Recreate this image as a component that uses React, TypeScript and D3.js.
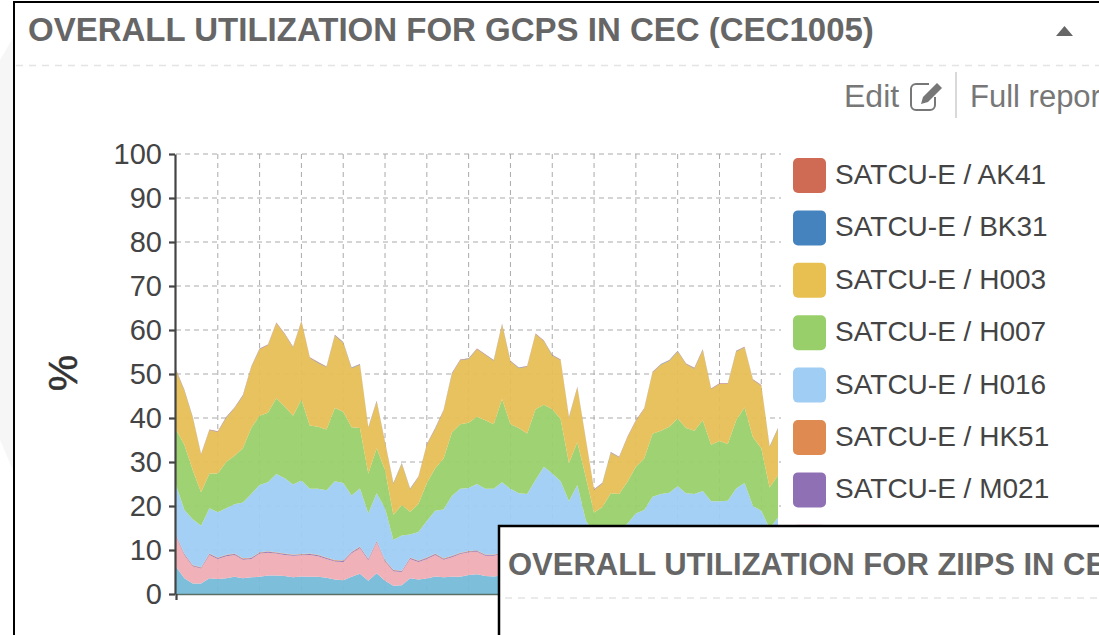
import React, { useEffect, useRef } from 'react';
import * as d3 from 'd3';

// cumulative tops (values behind the lower panel are rough guesses)
const topYellow = [51, 46.4, 40.3, 31.8, 37.4, 37, 40.2, 42.4, 45.2, 51.7, 55.8, 56.7, 61.7, 59.2, 56.2, 62.1, 53.8, 52.7, 51.7, 58.9, 57.3, 51.5, 52.3, 37.9, 43.9, 34.6, 25.2, 29.8, 24, 26.7, 34.1, 37.7, 41.8, 50.2, 53.3, 53.6, 55.8, 54.5, 53.2, 61.4, 53, 51.5, 51.8, 59.2, 57.6, 54.4, 53.3, 40.2, 47.1, 35.4, 23.8, 25.3, 32.3, 31.2, 35.8, 39.5, 42.2, 50.5, 52.3, 53.2, 55.3, 52.4, 51.4, 55.6, 46.7, 47.9, 47.9, 55.3, 56.2, 48.8, 47.5, 33.6, 37.7];
const topGreen = [37.4, 33.9, 28.2, 23.1, 27.4, 27.4, 30, 31.4, 33.1, 37.7, 40.5, 41.2, 44.5, 42.6, 40.5, 44.2, 38.3, 38, 37.4, 42.3, 41.4, 37.9, 37.7, 27.4, 33.1, 28.2, 18, 20.2, 18.7, 20.5, 25.2, 28.6, 30.8, 36.7, 38.6, 38.9, 40.3, 39.5, 38.6, 44.3, 38.6, 37.7, 36.5, 42, 43, 42, 39.8, 29.8, 34.5, 26.7, 18.5, 19.8, 22.9, 22.7, 25.5, 28.9, 30.8, 36.4, 37.1, 38, 39.9, 37.7, 37.1, 39.5, 33.9, 34.8, 34.1, 39.5, 42.4, 35.6, 33.1, 24.2, 27];
const topBlue = [24.8, 19.1, 17, 15.5, 19.5, 18.6, 19.5, 20.4, 20.8, 22.7, 24.8, 25.4, 27.3, 26.3, 24.9, 25.8, 23.9, 23.9, 23.6, 25.6, 25.2, 22.4, 24, 18.3, 22.9, 19.5, 12.3, 13.3, 13.5, 14.1, 16.6, 18.9, 19.2, 22.3, 23.9, 24.1, 25, 23.9, 23.9, 25.4, 23.9, 22.9, 22.7, 25.9, 28.9, 27.4, 25.6, 21.1, 24.8, 16.8, 13.5, 13, 14, 14.5, 16, 18.3, 19.1, 22.1, 22.7, 23, 24.5, 22.9, 22.7, 23.4, 21.1, 21.1, 21.2, 24, 25.2, 20, 18.9, 14.9, 17.4];
const topPink = [13.4, 9.2, 6.6, 6.1, 9.2, 8.3, 8.9, 9.2, 8.1, 8.3, 9.5, 9.7, 9.5, 9.2, 9, 9.1, 9.2, 8.9, 8.3, 7.7, 7.6, 9.6, 10.8, 8, 12.1, 7.7, 5.5, 5.3, 8.3, 7.6, 8.3, 9.2, 8.1, 8.7, 9.4, 9.8, 9.9, 9, 9, 9.4, 9.2, 8.9, 8.5, 9, 9.6, 9.4, 9, 7.8, 10.4, 7.2, 5.6, 5.4, 7.8, 7.6, 8, 8.8, 8.6, 9.1, 9.4, 9.6, 9.8, 9.2, 8.9, 9.3, 8.7, 8.6, 8.8, 9.5, 9.7, 8.4, 8.1, 6.6, 7.4];
const teal = [6.2, 3.6, 2.4, 2.4, 3.6, 3.4, 3.6, 3.9, 3.6, 3.8, 3.9, 4.2, 4.2, 4.1, 3.8, 4, 3.9, 3.9, 3.7, 3.3, 3.1, 3.9, 4.6, 3, 4.7, 3, 1.9, 2, 3.6, 3.3, 3.5, 4, 3.8, 3.9, 3.9, 4.3, 4.5, 4.1, 4, 4.2, 4.1, 3.9, 3.7, 3.9, 4.2, 4.1, 3.9, 3.2, 4.5, 3.1, 2.2, 2.1, 3.4, 3.3, 3.5, 3.9, 3.8, 4, 4.1, 4.3, 4.4, 4.1, 3.9, 4.1, 3.8, 3.7, 3.8, 4.2, 4.3, 3.6, 3.5, 2.7, 3.2];

// the four series that only show as a hairline along the edges
const hairlineAK41 = 0.1;
const hairlineBK31 = 0.08;
const hairlineHK51 = 0.12;
const hairlineM021 = 0.2;

const legendNames = ['SATCU-E / AK41', 'SATCU-E / BK31', 'SATCU-E / H003', 'SATCU-E / H007', 'SATCU-E / H016', 'SATCU-E / HK51', 'SATCU-E / M021'];
const legendColors = ['#cf6b55', '#4583bf', '#e8c052', '#99cf6a', '#9fcdf4', '#de8a50', '#8f70b5', '#f0a9b4'];
const yTicks = [0, 10, 20, 30, 40, 50, 60, 70, 80, 90, 100];
const xGridIndex = [5, 10, 15, 20, 25, 30, 35, 40, 45, 50, 55, 60, 65, 70];

const stackKeys = ['teal', 'pink', 'm021', 'hk51', 'h016', 'h007', 'h003', 'bk31', 'ak41'];
const stackColors = ['#75bad8', '#efacb5', '#8f70b5', '#de8a50', '#9fcdf4', '#99cf6a', '#e5be55', '#4583bf', '#cf6b55'];

const rows = teal.map((t, i) => ({
  index: i,
  teal: t,
  pink: topPink[i] - t - hairlineHK51 - hairlineM021,
  m021: hairlineM021,
  hk51: hairlineHK51,
  h016: topBlue[i] - topPink[i],
  h007: topGreen[i] - topBlue[i],
  h003: topYellow[i] - topGreen[i] - hairlineAK41 - hairlineBK31,
  bk31: hairlineBK31,
  ak41: hairlineAK41,
}));

const FONT = '"Liberation Sans", Arial, sans-serif';

export default function App() {
  const axisRef = useRef<SVGGElement>(null);

  const x = d3.scaleLinear().domain([0, 72]).range([176, 778]);
  const y = d3.scaleLinear().domain([0, 100]).range([594, 154]);

  const series = d3.stack<any>().keys(stackKeys)(rows);
  const area = d3.area<any>()
    .x(d => x(d.data.index))
    .y0(d => y(d[0]))
    .y1(d => y(d[1]));

  useEffect(() => {
    const g = d3.select(axisRef.current);
    g.selectAll('*').remove();
    const yAxis = g.append('g')
      .attr('transform', 'translate(175,0)')
      .call(d3.axisLeft(y).tickValues(yTicks).tickSize(6).tickPadding(7).tickSizeOuter(0));
    yAxis.selectAll('text').attr('font-size', 29).attr('font-family', FONT).attr('fill', '#444');
    yAxis.selectAll('line').attr('stroke', '#444').attr('stroke-width', 2.2);
    yAxis.select('.domain').attr('stroke', '#444').attr('stroke-width', 2.2);

    const xAxis = g.append('g')
      .attr('transform', 'translate(0,594)')
      .call(d3.axisBottom(x).tickValues([0]).tickSize(6).tickFormat(() => '').tickSizeOuter(0));
    xAxis.selectAll('line').attr('stroke', '#444').attr('stroke-width', 2.2);
    xAxis.select('.domain').attr('stroke', '#5c6f66').attr('stroke-width', 1.5);
  }, []);

  return (
    <svg width={1099} height={635} style={{ position: 'fixed', left: 0, top: 0, display: 'block', background: '#fff' }}>
      <polygon points="0,60 13,38 13,470 0,440" fill="#f6f6f6" />

      {/* top panel */}
      <rect x={14} y={2} width={1100} height={650} fill="#fff" stroke="#000" strokeWidth={2} />
      <text x={28} y={41} fontFamily={FONT} fontWeight="bold" fontSize={33} fill="#666">
        OVERALL UTILIZATION FOR GCPS IN CEC (CEC1005)
      </text>
      <line x1={16} x2={1099} y1={65.5} y2={65.5} stroke="#e4e4e4" strokeWidth={1.5} strokeDasharray="7,6" />
      <polygon points="1056,36 1073,36 1064.5,26" fill="#666" />

      <text x={844} y={107} fontFamily={FONT} fontSize={32} fill="#777">Edit</text>
      <g fill="none" stroke="#777" strokeWidth={2}>
        <path d="M935,97 v8 a5,5 0 0 1 -5,5 h-14 a5,5 0 0 1 -5,-5 v-16 a5,5 0 0 1 5,-5 h13" />
        <path d="M921,104 l2,-7 l14,-14 l5,5 l-14,14 z" fill="#777" stroke="none" />
      </g>
      <line x1={956} x2={956} y1={72} y2={118} stroke="#ccc" strokeWidth={1.5} />
      <text x={970} y={107} fontFamily={FONT} fontSize={31} fill="#777">Full report</text>

      {/* grid */}
      <g stroke="#aaa" strokeWidth={1} strokeDasharray="5,4">
        {yTicks.slice(1).map(t => (
          <line key={t} x1={176} x2={781} y1={y(t)} y2={y(t)} />
        ))}
        {xGridIndex.map(i => (
          <line key={i} x1={x(i)} x2={x(i)} y1={154} y2={594} />
        ))}
      </g>

      {series.map((s, i) => (
        <path key={s.key} d={area(s) || ''} fill={stackColors[i]} fillOpacity={0.94} />
      ))}

      <g ref={axisRef} />

      <text transform="translate(77,373) rotate(-90)" textAnchor="middle" fontFamily={FONT} fontSize={41} fill="#333" stroke="#333" strokeWidth={0.5}>%</text>

      {/* legend */}
      {legendColors.map((c, i) => (
        <g key={c} transform={`translate(793,${158 + i * 52.4})`}>
          <rect width={33} height={35} rx={5} fill={c} />
          {legendNames[i] && (
            <text x={42} y={26} fontFamily={FONT} fontSize={28} fill="#444">{legendNames[i]}</text>
          )}
        </g>
      ))}

      {/* lower panel, overlaps the chart */}
      <rect x={499} y={526} width={700} height={200} fill="#fff" stroke="#000" strokeWidth={2.5} />
      <text x={508} y={575} fontFamily={FONT} fontWeight="bold" fontSize={31} fill="#666">
        OVERALL UTILIZATION FOR ZIIPS IN CEC
      </text>
      <line x1={505} x2={1099} y1={598} y2={598} stroke="#e4e4e4" strokeWidth={1.5} strokeDasharray="7,6" />
    </svg>
  );
}
